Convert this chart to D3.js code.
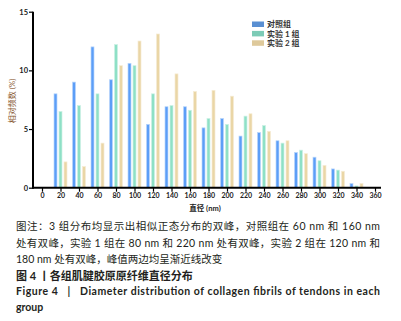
<!DOCTYPE html>
<html>
<head>
<meta charset="utf-8">
<script src="https://cdn.jsdelivr.net/npm/d3@7"></script>
<style>
  body { margin: 0; background: #fff; }
  svg { display: block; }
</style>
</head>
<body>
<svg id="chart" width="401" height="321"></svg>
<script>
// diameters (nm) and relative frequency (%) per group
var diameters = [20, 40, 60, 80, 100, 120, 140, 160, 180, 200, 220, 240, 260, 280, 300, 320, 340];
var control = [8.0, 9.0, 12.0, 9.2, 10.6, 5.4, 6.9, 6.9, 5.1, 5.9, 4.4, 4.7, 4.0, 3.0, 2.6, 1.6, 0.35];
var exp1 = [6.5, 7.0, 8.0, 12.2, 10.4, 8.0, 7.0, 6.6, 5.9, 5.4, 6.1, 5.3, 3.8, 3.2, 2.3, 1.5, 0.15];
var exp2 = [2.2, 1.8, 3.8, 10.4, 12.5, 13.1, 9.7, 8.2, 8.3, 7.8, 6.3, 4.8, 4.0, 2.9, 1.9, 1.4, 0.35];
var xTicks = d3.range(0, 361, 20);
var yTicks = [0, 5, 10, 15];
var seriesNames = ["对照组", "实验 1 组", "实验 2 组"];

var captionLines = [
    "图注：3 组分布均显示出相似正态分布的双峰，对照组在 60 nm 和 160 nm",
    "处有双峰，实验 1 组在 80 nm 和 220 nm 处有双峰，实验 2 组在 120 nm 和",
    "180 nm 处有双峰，峰值两边均呈渐近线改变"
];

var svg = d3.select("#chart");
var latin = "Lato, 'Noto Sans CJK SC', sans-serif";

var x = d3.scaleLinear().domain([0, 360]).range([42, 375]);
var y = d3.scaleLinear().domain([0, 15]).range([187.7, 11.7]);

var series = [
    {name: seriesNames[0], values: control, fill: "#5c9ef7", edge: "#b9d6fb", key: "#5a8fd2", off: -5},
    {name: seriesNames[1], values: exp1, fill: "#8ee0c6", edge: "#cdf1e6", key: "#7ccbb6", off: 0},
    {name: seriesNames[2], values: exp2, fill: "#ead6a6", edge: "#f6ecd4", key: "#dec99b", off: 5}
];

// bars
series.forEach(function(s) {
    svg.append("g").selectAll("rect")
        .data(s.values)
        .join("rect")
        .attr("x", (d, i) => x(diameters[i]) + s.off - 1.5)
        .attr("width", 3)
        .attr("y", d => y(d))
        .attr("height", d => y(0) - y(d))
        .attr("fill", s.fill)
        .attr("stroke", s.edge)
        .attr("stroke-width", 0.7);
});

// axes
var xAxis = svg.append("g")
    .attr("transform", "translate(0," + y(0) + ")")
    .call(d3.axisBottom(x).tickValues(xTicks).tickSize(4).tickSizeOuter(0));
xAxis.select(".domain").attr("d", "M33,0H381").attr("stroke-width", 2);
xAxis.selectAll(".tick line").attr("stroke-width", 1.2);
xAxis.selectAll("text")
    .attr("dy", "0.3em")
    .attr("y", 8)
    .style("font", "bold 7px " + latin)
    .attr("fill", "#222");

var yAxis = svg.append("g")
    .attr("transform", "translate(33,0)")
    .call(d3.axisLeft(y).tickValues(yTicks).tickSize(4).tickSizeOuter(0));
yAxis.select(".domain").attr("d", "M0," + y(15) + "V" + (y(0) + 1)).attr("stroke-width", 2);
yAxis.selectAll(".tick line").attr("stroke-width", 1.2);
yAxis.selectAll("text")
    .attr("x", -5)
    .style("font", "bold 7.5px " + latin)
    .attr("fill", "#222");

svg.append("text")
    .attr("transform", "translate(15,101) rotate(-90)")
    .attr("text-anchor", "middle")
    .attr("fill", "#8a5a33")
    .style("font", "8px " + latin)
    .text("相对频数 (%)");

svg.append("text")
    .attr("x", 205)
    .attr("y", 211)
    .attr("text-anchor", "middle")
    .attr("fill", "#222")
    .style("font", "bold 7.5px " + latin)
    .text("直径 (nm)");

// legend
var legend = svg.append("g").attr("transform", "translate(252,20)");
series.forEach(function(s, i) {
    legend.append("rect")
        .attr("x", 0).attr("y", i * 9.4 + 1.5)
        .attr("width", 12).attr("height", 5.5)
        .attr("fill", s.key);
    legend.append("text")
        .attr("x", 15).attr("y", i * 9.4 + 4.3)
        .attr("dy", "0.35em")
        .attr("fill", "#333")
        .style("font", "bold 8px " + latin)
        .text(s.name);
});

// caption
var cap = svg.append("g").style("font", "10.5px " + latin).attr("fill", "#231f20");
captionLines.forEach(function(t, i) {
    var txt = cap.append("text")
        .attr("x", 16)
        .attr("y", 230 + i * 16.6)
        .text(t);
    if (i < 2) txt.attr("textLength", 364).attr("lengthAdjust", "spacing");
});

svg.append("text")
    .attr("x", 16).attr("y", 280)
    .attr("fill", "#231f20")
    .style("font", "bold 11px " + latin)
    .text("图 4 丨各组肌腱胶原原纤维直径分布");

svg.append("text")
    .attr("x", 16).attr("y", 294.5)
    .attr("fill", "#231f20")
    .attr("textLength", 364).attr("lengthAdjust", "spacing")
    .style("font", "bold 10.5px " + latin)
    .text("Figure 4\u00a0\u00a0\u00a0|\u00a0\u00a0\u00a0Diameter distribution of collagen fibrils of tendons in each");

svg.append("text")
    .attr("x", 16).attr("y", 311)
    .attr("fill", "#231f20")
    .style("font", "bold 10.5px " + latin)
    .text("group");
</script>
</body>
</html>
